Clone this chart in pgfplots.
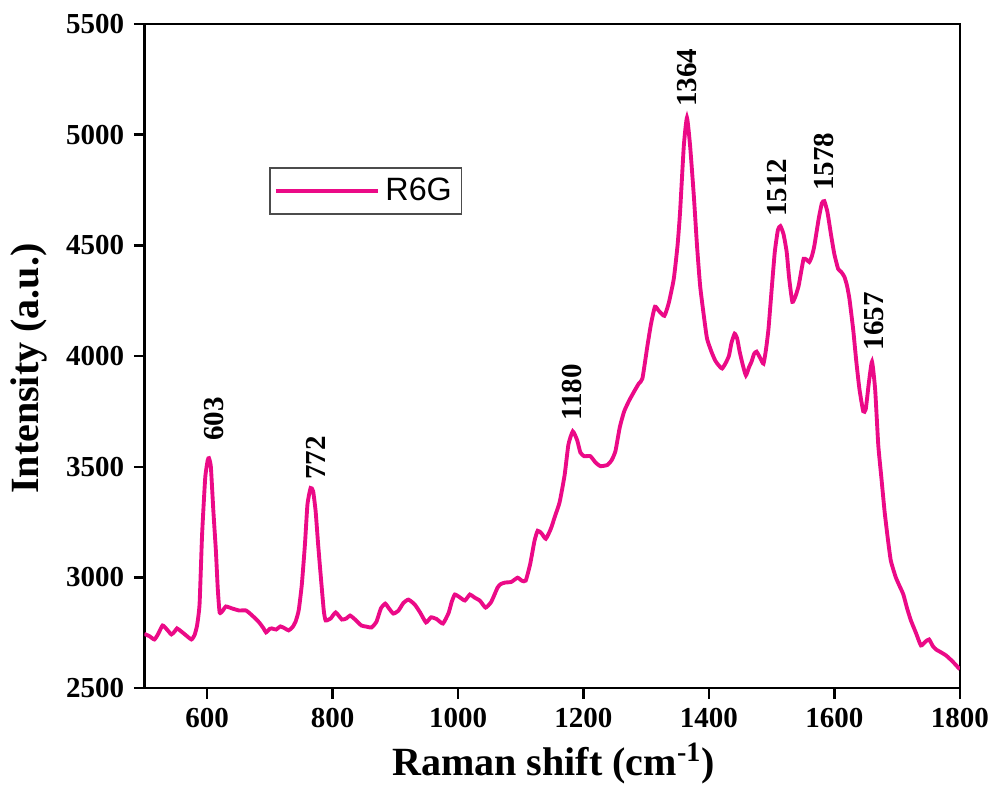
\documentclass[border=0pt]{standalone}
\usepackage{fontspec}
\setmainfont{Liberation Serif}
\newfontfamily\legfont{Liberation Sans}
\usepackage{pgfplots}
\pgfplotsset{compat=1.18}
\definecolor{rsg}{RGB}{235,10,135}
\begin{document}
\begin{tikzpicture}
\begin{axis}[
  scale only axis,
  width=295.4pt, height=240.6pt,
  xmin=500, xmax=1800, ymin=2500, ymax=5500,
  xtick={600,800,1000,1200,1400,1600,1800},
  ytick={2500,3000,3500,4000,4500,5000,5500},
  tick align=outside, tick pos=left,
  major tick length=3.8pt,
  axis line style={line width=0.9pt},
  every tick/.style={black, line width=0.9pt},
  /pgf/number format/assume math mode=true,
  /pgf/number format/set thousands separator={},
  tick label style={font=\fontsize{10.5}{12}\selectfont\bfseries},
  xlabel={Raman shift (cm\textsuperscript{-1})},
  ylabel={Intensity (a.u.)},
  label style={font=\fontsize{14.5}{17}\selectfont\bfseries},
  x label style={at={(axis description cs:0.502,-0.113)}, anchor=center},
  y label style={at={(axis description cs:-0.1416,0.481)}, anchor=center, rotate=0},
  legend style={at={(0.153,0.784)}, anchor=north west, draw=black!70, line width=0.5pt,
    font=\legfont\fontsize{11.7}{13}\selectfont, inner xsep=1.5pt, inner ysep=1.5pt},
  legend cell align=left,
  legend image code/.code={\path (0cm,0cm) -- (1.3cm,0cm);\draw[#1, line width=1.4pt] (0.23cm,0cm) -- (1.21cm,0cm);},
]
\addplot[rsg, line width=1.4pt, smooth, tension=0.3] coordinates {
(500,2745)(508,2735)(516,2720)(522,2745)(529,2783)(536,2765)(543,2743)(548,2755)
(552,2770)(558,2758)(565,2742)(575,2720)(580,2740)(584,2783)(588,2880)(592,3193)
(597,3450)(601,3530)(603,3539)(606,3500)(610,3300)(614,3121)(617,2950)(620,2842)
(625,2850)(630,2869)(640,2860)(651,2851)(662,2851)(672,2828)(683,2797)(690,2770)
(694,2752)(700,2768)(703,2770)(710,2765)(717,2779)(724,2770)(730,2761)(736,2775)
(741,2800)(746,2851)(751,2968)(756,3150)(760,3330)(765,3404)(769,3390)(773,3300)
(777,3150)(781,3013)(786,2851)(789,2806)(797,2815)(805,2842)(815,2810)(822,2815)
(828,2828)(836,2810)(846,2783)(854,2778)(862,2774)(870,2800)(877,2860)(884,2882)
(890,2860)(897,2837)(905,2850)(913,2885)(921,2900)(931,2878)(940,2840)(949,2797)
(957,2820)(966,2812)(976,2792)(985,2840)(990,2890)(995,2923)(1003,2910)(1011,2896)
(1019,2923)(1026,2910)(1035,2895)(1044,2864)(1053,2890)(1063,2954)(1068,2970)(1075,2977)
(1085,2980)(1095,2999)(1102,2985)(1108,2986)(1115,3060)(1122,3166)(1127,3211)(1133,3200)
(1140,3175)(1148,3220)(1155,3280)(1162,3340)(1170,3463)(1176,3600)(1183,3660)(1190,3620)
(1195,3565)(1201,3548)(1211,3548)(1219,3520)(1227,3503)(1238,3508)(1245,3530)(1251,3571)
(1258,3680)(1265,3751)(1273,3800)(1281,3841)(1288,3875)(1294,3899)(1302,4047)(1308,4150)
(1314,4223)(1320,4205)(1329,4182)(1336,4240)(1344,4349)(1350,4500)(1354,4650)(1360,4950)
(1365,5077)(1370,4950)(1376,4722)(1381,4500)(1386,4317)(1392,4180)(1397,4079)(1404,4020)
(1410,3980)(1415,3960)(1421,3944)(1427,3970)(1432,4002)(1436,4060)(1441,4101)(1445,4080)
(1449,4020)(1454,3960)(1459,3913)(1464,3950)(1468,3975)(1472,4010)(1476,4020)(1482,3990)
(1487,3966)(1491,4030)(1495,4124)(1500,4300)(1505,4470)(1510,4570)(1514,4587)(1519,4550)
(1524,4470)(1528,4350)(1533,4245)(1538,4270)(1543,4317)(1547,4380)(1551,4439)(1556,4435)
(1560,4425)(1564,4450)(1568,4497)(1575,4620)(1580,4690)(1584,4700)(1589,4650)(1595,4542)
(1600,4460)(1606,4394)(1611,4380)(1616,4358)(1620,4320)(1624,4259)(1630,4120)(1635,3975)
(1640,3850)(1646,3751)(1650,3760)(1655,3880)(1660,3975)(1665,3850)(1670,3598)(1675,3449)
(1680,3300)(1685,3180)(1690,3076)(1698,3000)(1705,2955)(1710,2923)(1716,2860)(1722,2806)
(1730,2750)(1738,2693)(1745,2710)(1751,2720)(1757,2690)(1762,2675)(1770,2662)(1778,2648)
(1785,2630)(1792,2610)(1800,2585)
};
\addlegendentry{R6G}
\begin{scope}[every node/.style={rotate=90, anchor=west, inner sep=0pt, font=\fontsize{10.5}{12}\selectfont\bfseries}]
\node at (axis cs:611,3616) {603};
\node at (axis cs:773,3440) {772};
\node at (axis cs:1181,3706) {1180};
\node at (axis cs:1365,5123) {1364};
\node at (axis cs:1508,4628) {1512};
\node at (axis cs:1583,4745) {1578};
\node at (axis cs:1663,4025) {1657};
\end{scope}
\end{axis}
\path (current axis.south west) ++(-52.3pt,-35.7pt) coordinate (bbA);
\path (current axis.north east) ++(12.3pt,8.7pt) coordinate (bbB);
\path (bbA) rectangle (bbB);
\end{tikzpicture}
\end{document}
